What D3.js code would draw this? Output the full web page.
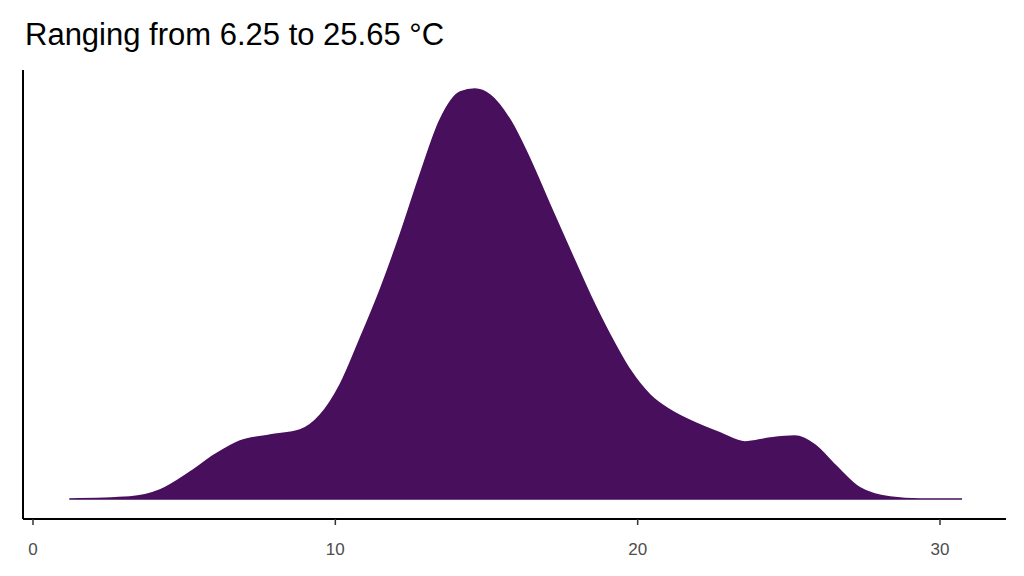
<!DOCTYPE html>
<html><head><meta charset="utf-8">
<script src="https://cdn.jsdelivr.net/npm/d3@7"></script>
<style>body{margin:0;background:#fff}</style></head>
<body><svg id="c" width="1024" height="576"></svg>
<script>
const title = "Ranging from 6.25 to 25.65 °C";
const tempX = [1.2,3.2,4.2,5.2,6.0,6.85,7.85,8.83,9.5,10.15,10.8,11.48,12.14,12.8,13.46,14.13,14.62,15.12,15.78,16.45,17.1,17.76,18.43,19.09,19.75,20.41,21.07,22.07,22.73,23.55,24.38,25.2,25.87,26.53,27.36,28.35,29.34,30.73];
const density = [0,0.002,0.009,0.027,0.044,0.058,0.064,0.069,0.084,0.114,0.159,0.209,0.264,0.324,0.379,0.407,0.410,0.404,0.379,0.339,0.294,0.249,0.204,0.164,0.129,0.104,0.089,0.074,0.066,0.057,0.061,0.063,0.054,0.034,0.011,0.002,0,0];
const xTicks = [0,10,20,30];

const svg = d3.select("#c");
const x = d3.scaleLinear().domain([0,30]).range([33,940]);
const y = d3.scaleLinear().domain([-0.02,0.429]).range([519,70]);
const pts = tempX.map((t,i)=>[t,density[i]]);
const area = d3.area().x(d=>x(d[0])).y0(y(0)).y1(d=>y(d[1])).curve(d3.curveMonotoneX);
svg.append("path").datum(pts).attr("d",area).attr("fill","#470f5c").attr("stroke","#470f5c").attr("stroke-width",1.5);
svg.append("line").attr("x1",23).attr("x2",23).attr("y1",70).attr("y2",519).attr("stroke","#000").attr("stroke-width",2);
svg.append("line").attr("x1",23).attr("x2",1006).attr("y1",519).attr("y2",519).attr("stroke","#000").attr("stroke-width",2);
const g = svg.append("g");
xTicks.forEach(t=>{
  g.append("line").attr("x1",x(t)).attr("x2",x(t)).attr("y1",519).attr("y2",525).attr("stroke","#333").attr("stroke-width",1.5);
  g.append("text").attr("x",x(t)).attr("y",555).attr("text-anchor","middle").attr("font-family","Liberation Sans, Arial, sans-serif").attr("font-size",17).attr("fill","#4d4d4d").text(t);
});
svg.append("text").attr("x",25).attr("y",45).attr("font-family","Liberation Sans, Arial, sans-serif").attr("font-size",31).attr("fill","#000").text(title);
</script></body></html>
